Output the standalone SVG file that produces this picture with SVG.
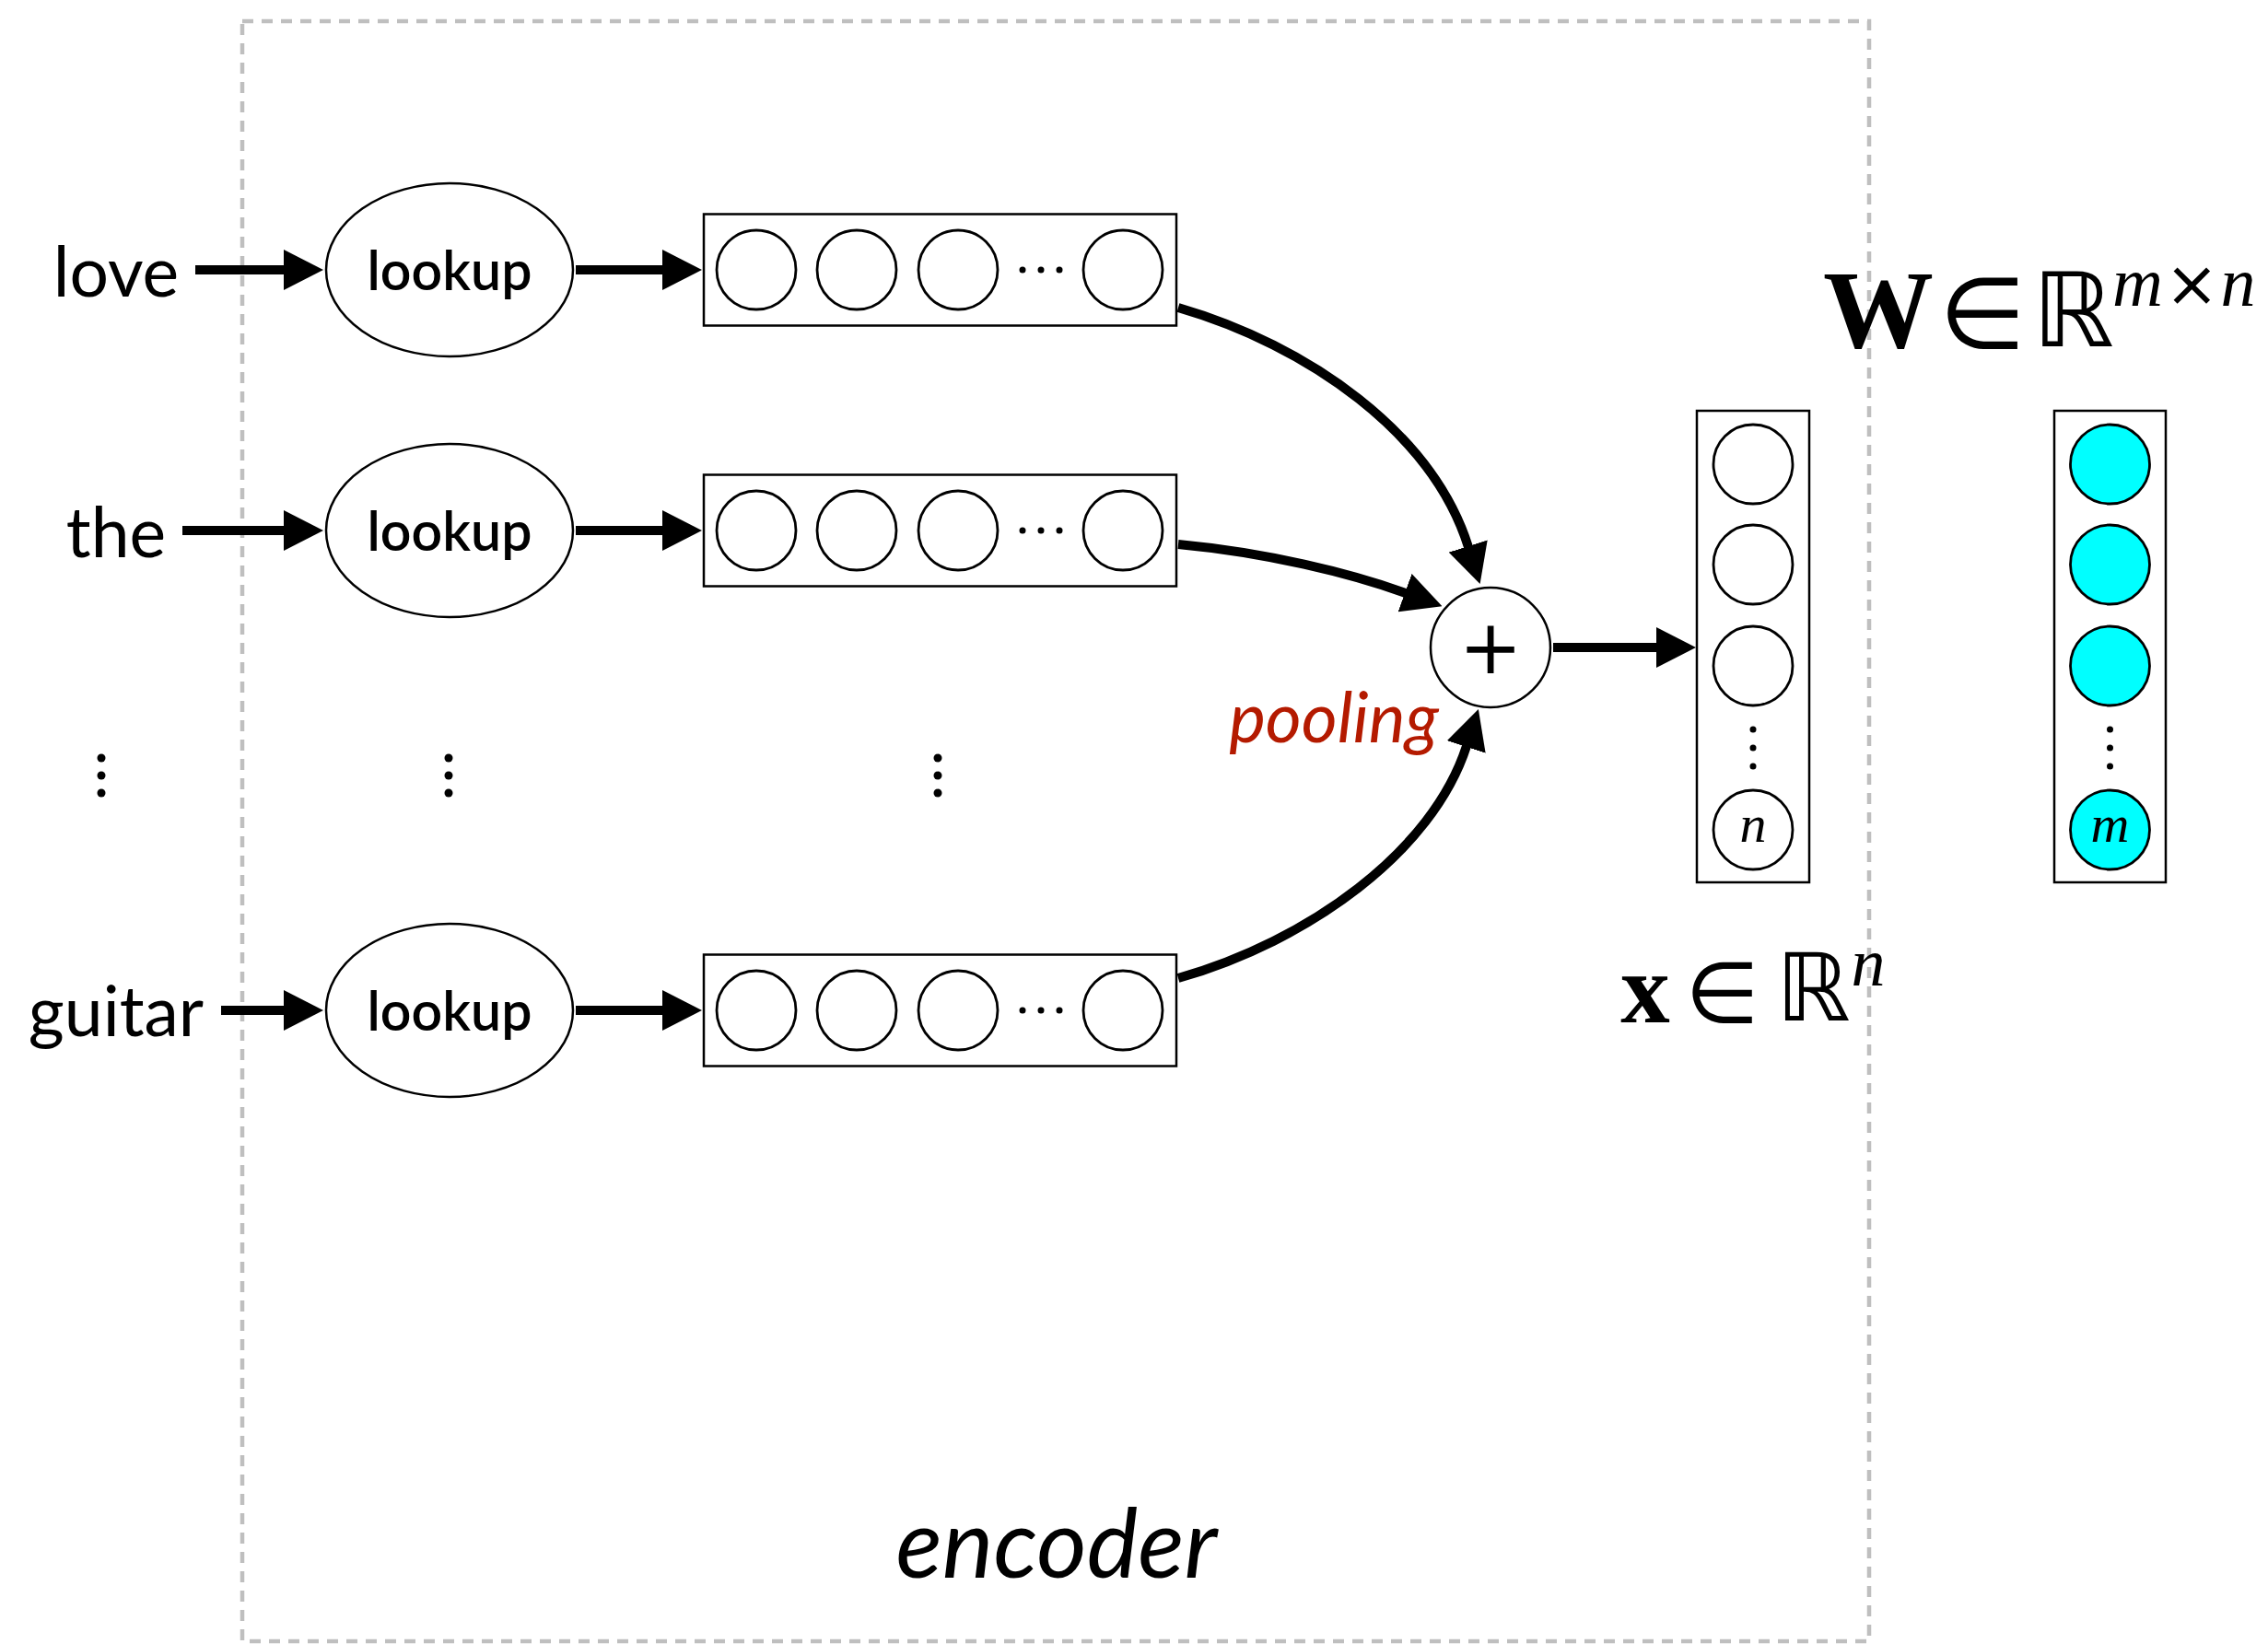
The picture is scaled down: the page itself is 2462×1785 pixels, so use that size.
<svg xmlns="http://www.w3.org/2000/svg" width="2462" height="1785" viewBox="0 0 2462 1785">
<defs>
<style>
.word{font-family:Lato,"Liberation Sans",sans-serif;font-size:75px;fill:#000;text-anchor:middle}
.lk{font-family:Lato,"Liberation Sans",sans-serif;font-size:59px;font-weight:600;fill:#000;text-anchor:middle}
.ell{fill:#fff;stroke:#000;stroke-width:2.5}
.box{fill:#fff;stroke:#000;stroke-width:2.5}
.cell{fill:#fff;stroke:#000;stroke-width:2.8}
.cyan{fill:#00ffff;stroke:#000;stroke-width:2.8}
.dot{fill:#000}
.conn{fill:none;stroke:#000;stroke-width:10}
.math{font-family:"DejaVu Sans",sans-serif;fill:#000;text-anchor:middle}
.bold{font-family:"Liberation Serif",serif;font-weight:bold;fill:#000;text-anchor:middle}
.it{font-family:"Liberation Serif",serif;font-style:italic;fill:#000;text-anchor:middle}
</style>
<marker id="ah" viewBox="0 0 43 44" refX="1" refY="22" markerWidth="43" markerHeight="44" markerUnits="userSpaceOnUse" orient="auto">
<path d="M0,0 L43,22 L0,44 Z" fill="#000"/>
</marker>
</defs>
<rect width="2462" height="1785" fill="#fff"/>
<g id="encoder">
<rect x="263" y="23" width="1766" height="1759" fill="none" stroke="#bfbfbf" stroke-width="4.5" stroke-dasharray="12 9"/>
<text x="1147" y="1713" font-family="Lato,'Liberation Sans',sans-serif" font-style="italic" font-size="105" text-anchor="middle" fill="#000">encoder</text>
</g>
<g id="words">
<text class="word" x="126" y="322">love</text>
<text class="word" x="126" y="605">the</text>
<text class="word" x="126" y="1125">guitar</text>
</g>
<g id="lookup1"><ellipse class="ell" cx="488" cy="293" rx="134" ry="94"/><text class="lk" x="488" y="315">lookup</text></g>
<g id="lookup2"><ellipse class="ell" cx="488" cy="576" rx="134" ry="94"/><text class="lk" x="488" y="598">lookup</text></g>
<g id="lookup3"><ellipse class="ell" cx="488" cy="1097" rx="134" ry="94"/><text class="lk" x="488" y="1119">lookup</text></g>
<g id="emb1">
<rect class="box" x="764" y="232.5" width="513" height="121"/>
<circle class="cell" cx="821" cy="293" r="43"/><circle class="cell" cx="930" cy="293" r="43"/><circle class="cell" cx="1040" cy="293" r="43"/><circle class="cell" cx="1219" cy="293" r="43"/>
<circle class="dot" cx="1110" cy="293" r="3.5"/><circle class="dot" cx="1130" cy="293" r="3.5"/><circle class="dot" cx="1150" cy="293" r="3.5"/>
</g>
<g id="emb2">
<rect class="box" x="764" y="515.5" width="513" height="121"/>
<circle class="cell" cx="821" cy="576" r="43"/><circle class="cell" cx="930" cy="576" r="43"/><circle class="cell" cx="1040" cy="576" r="43"/><circle class="cell" cx="1219" cy="576" r="43"/>
<circle class="dot" cx="1110" cy="576" r="3.5"/><circle class="dot" cx="1130" cy="576" r="3.5"/><circle class="dot" cx="1150" cy="576" r="3.5"/>
</g>
<g id="emb3">
<rect class="box" x="764" y="1036.5" width="513" height="121"/>
<circle class="cell" cx="821" cy="1097" r="43"/><circle class="cell" cx="930" cy="1097" r="43"/><circle class="cell" cx="1040" cy="1097" r="43"/><circle class="cell" cx="1219" cy="1097" r="43"/>
<circle class="dot" cx="1110" cy="1097" r="3.5"/><circle class="dot" cx="1130" cy="1097" r="3.5"/><circle class="dot" cx="1150" cy="1097" r="3.5"/>
</g>
<g id="vdots">
<circle class="dot" cx="110" cy="823" r="4.5"/><circle class="dot" cx="110" cy="842" r="4.5"/><circle class="dot" cx="110" cy="861" r="4.5"/>
<circle class="dot" cx="487" cy="823" r="4.5"/><circle class="dot" cx="487" cy="842" r="4.5"/><circle class="dot" cx="487" cy="861" r="4.5"/>
<circle class="dot" cx="1018" cy="823" r="4.5"/><circle class="dot" cx="1018" cy="842" r="4.5"/><circle class="dot" cx="1018" cy="861" r="4.5"/>
</g>
<g id="plus">
<circle class="ell" cx="1618" cy="703" r="65"/>
<text x="1618" y="731" font-family="DejaVu Sans,sans-serif" font-size="82" text-anchor="middle" fill="#000">+</text>
</g>
<text id="pooling" x="1448" y="806" font-family="Lato,'Liberation Sans',sans-serif" font-style="italic" font-size="75" text-anchor="middle" fill="#b41a00">pooling</text>
<g id="xvec">
<rect class="box" x="1842" y="446" width="122" height="512"/>
<circle class="cell" cx="1903" cy="504" r="43"/><circle class="cell" cx="1903" cy="613" r="43"/><circle class="cell" cx="1903" cy="723" r="43"/>
<circle class="dot" cx="1903" cy="792" r="3.5"/><circle class="dot" cx="1903" cy="812" r="3.5"/><circle class="dot" cx="1903" cy="832" r="3.5"/>
<circle class="cell" cx="1903" cy="901" r="43"/>
<text class="it" x="1903" y="914" font-size="58">n</text>
</g>
<g id="wvec">
<rect class="box" x="2230" y="446" width="121" height="512"/>
<circle class="cyan" cx="2290.5" cy="504" r="43"/><circle class="cyan" cx="2290.5" cy="613" r="43"/><circle class="cyan" cx="2290.5" cy="723" r="43"/>
<circle class="dot" cx="2290.5" cy="792" r="3.5"/><circle class="dot" cx="2290.5" cy="812" r="3.5"/><circle class="dot" cx="2290.5" cy="832" r="3.5"/>
<circle class="cyan" cx="2290.5" cy="901" r="43"/>
<text class="it" x="2290.5" y="914" font-size="58">m</text>
</g>
<g id="xlabel">
<text class="bold" x="1786" y="1110" font-size="107">x</text>
<text class="math" x="1869.5" y="1110" font-size="92">∈</text>
<text class="math" x="1968.5" y="1108" font-size="102">ℝ</text>
<text class="it" x="2028" y="1070" font-size="74">n</text>
</g>
<g id="wlabel">
<text class="bold" x="2039" y="377" font-size="120">W</text>
<text class="math" x="2152" y="378" font-size="108">∈</text>
<text class="math" x="2250.5" y="376" font-size="112">ℝ</text>
<text x="2293" y="332" font-size="76" fill="#000"><tspan font-family="Liberation Serif,serif" font-style="italic">m</tspan><tspan font-family="DejaVu Sans,sans-serif" font-size="70" dx="2">×</tspan><tspan font-family="Liberation Serif,serif" font-style="italic" dx="2">n</tspan></text>
</g>
<g id="connectors">
<line class="conn" x1="212" y1="293" x2="309" y2="293" marker-end="url(#ah)"/>
<line class="conn" x1="198" y1="576" x2="309" y2="576" marker-end="url(#ah)"/>
<line class="conn" x1="240" y1="1097" x2="309" y2="1097" marker-end="url(#ah)"/>
<line class="conn" x1="625" y1="293" x2="720" y2="293" marker-end="url(#ah)"/>
<line class="conn" x1="625" y1="576" x2="720" y2="576" marker-end="url(#ah)"/>
<line class="conn" x1="625" y1="1097" x2="720" y2="1097" marker-end="url(#ah)"/>
<path class="conn" d="M1279,334 C1420,375 1555,470 1594,594" marker-end="url(#ah)"/>
<path class="conn" d="M1279,591 C1375,600 1465,622 1526,644" marker-end="url(#ah)"/>
<path class="conn" d="M1279,1062 C1420,1022 1555,925 1592,810" marker-end="url(#ah)"/>
<line class="conn" x1="1686" y1="703" x2="1799" y2="703" marker-end="url(#ah)"/>
</g>
</svg>
